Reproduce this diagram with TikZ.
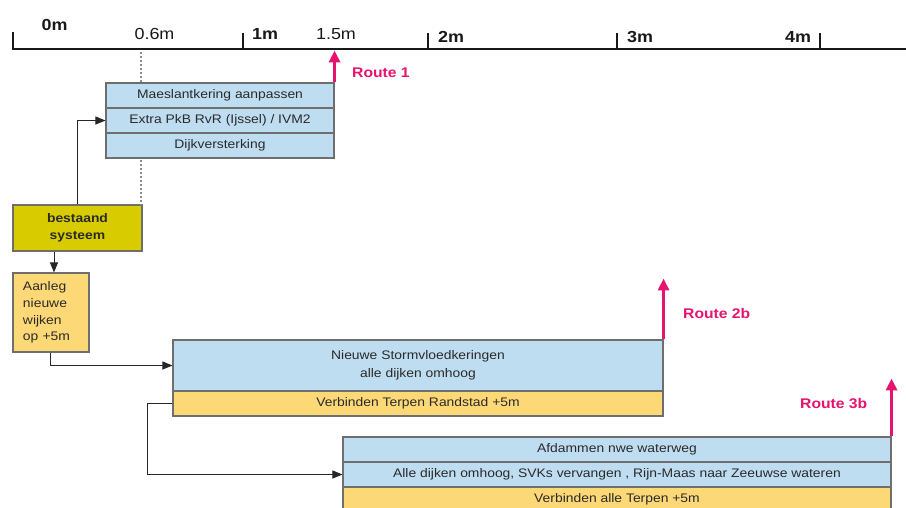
\documentclass[tikz,border=0pt]{standalone}
\usepackage{fontspec}
\setmainfont{Liberation Sans}[FakeStretch=1.12]
\usetikzlibrary{arrows.meta}
\definecolor{boxblue}{HTML}{BFDDF1}
\definecolor{boxorange}{HTML}{FDD877}
\definecolor{boxolive}{HTML}{D8CC00}
\definecolor{routecol}{HTML}{E6136F}
\definecolor{edgecol}{HTML}{6E6E6E}
\definecolor{txtcol}{HTML}{2A2A2A}
\tikzset{
  rowbox/.style={draw=edgecol, line width=1.1pt, inner sep=0pt, text=txtcol,
    font=\fontsize{12.4}{14}\selectfont, align=center},
  bluerow/.style={rowbox, fill=boxblue},
  orangerow/.style={rowbox, fill=boxorange},
  conn/.style={draw=black!85, line width=0.9pt, -{Triangle[length=10pt,width=8pt]}},
  routearrow/.style={draw=routecol, line width=3pt, -{Triangle[length=12pt,width=11pt]}},
  routelabel/.style={text=routecol, font=\bfseries\fontsize{14}{16}\selectfont, anchor=west, inner sep=0pt},
  axislabel/.style={font=\fontsize{16}{18}\selectfont, text=black!90, inner sep=0pt},
  axisbold/.style={axislabel, font=\bfseries\fontsize{16}{18}\selectfont},
  axisline/.style={draw=black!90, line width=2pt},
  dotline/.style={draw=black!45, line width=1.2pt, dash pattern=on 2pt off 2pt}
}
\begin{document}
\begin{tikzpicture}[x=1pt,y=-1pt]
\clip (0,0) rectangle (906,507);
\fill[white] (0,0) rectangle (906,507);

% axis
\draw[axisline] (13,32) -- (13,49) -- (906,49);
\draw[axisline] (243,33) -- (243,49);
\draw[axisline] (428,33) -- (428,49);
\draw[axisline] (617,33) -- (617,49);
\draw[axisline] (820,33) -- (820,49);
\node[axisbold] (l0) at (54.5,25) {0m};
\node[axislabel] (l06) at (154.5,34) {0.6m};
\node[axisbold] (l1) at (265,34) {1m};
\node[axislabel] (l15) at (336,34) {1.5m};
\node[axisbold] (l2) at (451,37) {2m};
\node[axisbold] (l3) at (640,37) {3m};
\node[axisbold] (l4) at (798,37) {4m};

% existing system
\node[rowbox, fill=boxolive, minimum width=129pt, minimum height=46pt,
  font=\bfseries\fontsize{12.4}{17}\selectfont] (best) at (77.5,228) {bestaand\\systeem};

% dotted 0.6m line
\coordinate (d0) at (141,52);
\draw[dotline] (d0) -- (d0 |- best.north);

% route 1 block
\node[bluerow, minimum width=228pt, minimum height=25pt] (r11) at (220,95.5) {Maeslantkering aanpassen};
\node[bluerow, minimum width=228pt, minimum height=25pt] (r12) at (220,120.5) {Extra PkB RvR (Ijssel) / IVM2};
\node[bluerow, minimum width=228pt, minimum height=25pt] (r13) at (220,145.5) {Dijkversterking};

% new districts
\node[orangerow, minimum width=76pt, minimum height=79pt, align=left,
  font=\fontsize{12.4}{16.7}\selectfont, text width=56pt] (aan) at (51,312.5) {Aanleg\\nieuwe\\wijken\\op +5m};

% route 2b block
\node[bluerow, minimum width=490pt, minimum height=51pt, font=\fontsize{12.4}{18}\selectfont] (b2a) at (418,365.5) {Nieuwe Stormvloedkeringen\\alle dijken omhoog};
\node[orangerow, minimum width=490pt, minimum height=25pt] (b2b) at (418,403.5) {Verbinden Terpen Randstad +5m};

% route 3b block
\node[bluerow, minimum width=548pt, minimum height=25pt] (b3a) at (617,449.5) {Afdammen nwe waterweg};
\node[bluerow, minimum width=548pt, minimum height=25pt] (b3b) at (617,474.5) {Alle dijken omhoog, SVKs vervangen , Rijn-Maas naar Zeeuwse wateren};
\node[orangerow, minimum width=548pt, minimum height=25pt] (b3c) at (617,499.5) {Verbinden alle Terpen +5m};

% connectors
\draw[conn] (best.north) |- (r12.west);
\draw[conn] ([xshift=3pt]aan.north |- best.south) -- ([xshift=3pt]aan.north);
\draw[conn] ([xshift=-1pt]aan.south) |- (b2a.west);
\draw[conn] (b2b.west) -- ++(-25,0) |- (b3b.west);

% routes
\draw[routearrow] (r11.north east) -- ++(0,-32);
\node[routelabel] (rt1) at (352,73) {Route 1};
\draw[routearrow] (b2a.north east) -- ++(0,-61);
\node[routelabel] (rt2) at (683,313) {Route 2b};
\draw[routearrow] (b3a.north east) -- ++(0,-58);
\node[routelabel] (rt3) at (800,403) {Route 3b};
\end{tikzpicture}
\end{document}
